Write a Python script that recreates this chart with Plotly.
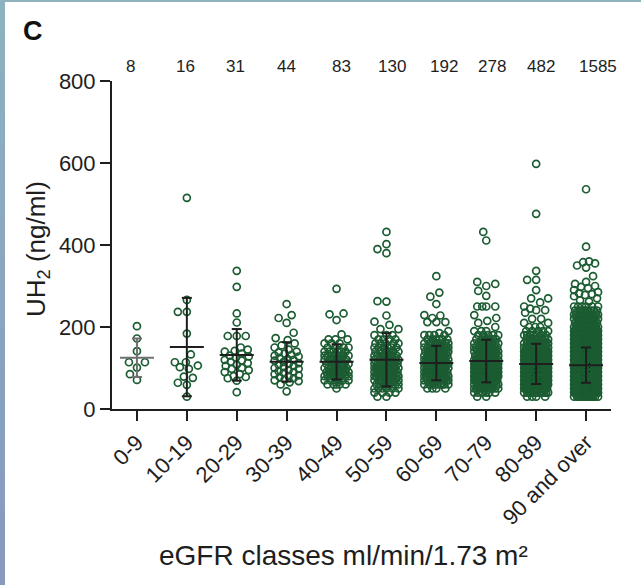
import numpy as np
import plotly.graph_objects as go

# ---------------------------------------------------------------- data
categories = ["0-9", "10-19", "20-29", "30-39", "40-49",
              "50-59", "60-69", "70-79", "80-89", "90 and over"]

# Small classes: individual UH2 values (ng/ml)
uh2_0_9 = [202, 172, 141, 114, 114, 101, 85, 71]
uh2_10_19 = [515, 266, 237, 237, 184, 133, 114, 114, 106, 102, 98, 79, 76, 64, 59, 30]
uh2_20_29 = [337, 298, 233, 211, 178, 178, 178, 150, 145, 142, 140, 135, 130, 128,
             125, 120, 118, 115, 112, 108, 105, 100, 98, 95, 90, 85, 80, 78, 75, 69, 41]
uh2_30_39 = [256, 229, 222, 210, 186, 173, 168, 160, 155, 150, 145, 140, 138, 135,
             132, 130, 128, 125, 122, 120, 118, 115, 112, 110, 108, 105, 102, 100,
             98, 95, 92, 90, 88, 85, 82, 80, 78, 75, 72, 70, 68, 65, 60, 43]

# Larger classes: number of subjects per 10 ng/ml level, plus the isolated high values
levels = [30, 40, 50, 60, 70, 80, 90, 100, 110, 120, 130, 140,
          150, 160, 170, 180, 190, 200, 210, 220, 230, 240, 250]
counts_40_49 = [0, 0, 1, 5, 6, 8, 9, 9, 9, 8, 7, 6, 4, 3, 3, 0, 0, 0, 0, 0, 0, 0, 0]
high_40_49 = [293, 233, 231, 217, 182]
counts_50_59 = [2, 4, 6, 8, 10, 12, 12, 12, 11, 9, 8, 7, 6, 5, 4, 3, 0, 0, 0, 0, 0, 0, 0]
high_50_59 = [432, 402, 390, 380, 263, 262, 228, 213, 205, 195, 195]
counts_60_69 = [0, 0, 4, 9, 14, 18, 20, 20, 19, 18, 16, 13, 11, 8, 6, 3, 0, 0, 0, 0, 0, 0, 0]
high_60_69 = [324, 284, 274, 256, 229, 228, 222, 212, 212, 212, 190, 185, 180]
counts_70_79 = [2, 6, 12, 18, 24, 27, 28, 27, 25, 22, 19, 16, 12, 9, 7, 5, 3, 1, 0, 0, 0, 0, 0]
high_70_79 = [432, 411, 310, 305, 300, 288, 276, 250, 250, 250, 250, 229, 222, 215, 210]
counts_80_89 = [4, 12, 24, 36, 45, 50, 50, 47, 43, 37, 31, 25, 20, 15, 10, 7, 5, 3, 2, 2, 0, 0, 0]
high_80_89 = [598, 476, 337, 315, 315, 290, 270, 270, 260, 250, 245, 241, 241, 235]
counts_90_up = [20, 45, 75, 105, 133, 145, 151, 142, 128, 116, 100, 87,
                68, 56, 46, 37, 29, 23, 18, 14, 11, 8, 6]
high_90_up = [536, 396, 360, 358, 355, 350, 345, 324, 310, 305, 300, 298,
              295, 290, 285, 282, 280, 278, 275, 270, 265, 262]

# Mean and standard deviation per class (ng/ml)
mean_uh2 = [125, 151, 132, 115, 115, 120, 112, 117, 110, 107]
sd_uh2 = [47, 120, 63, 48, 43, 65, 42, 52, 49, 43]


def expand(counts, high):
    return list(np.repeat(levels, counts)) + list(high)


groups = [
    uh2_0_9, uh2_10_19, uh2_20_29, uh2_30_39,
    expand(counts_40_49, high_40_49),
    expand(counts_50_59, high_50_59),
    expand(counts_60_69, high_60_69),
    expand(counts_70_79, high_70_79),
    expand(counts_80_89, high_80_89),
    expand(counts_90_up, high_90_up),
]
n_per_class = [len(g) for g in groups]

# ---------------------------------------------------------------- geometry
W, H = 641, 585
ML, MR, MT, MB = 112, 30, 81, 176
PLOT_W, PLOT_H = W - ML - MR, H - MT - MB
X_RANGE = [-0.5, 9.5]
Y_RANGE = [0, 800]
PX_PER_X = PLOT_W / (X_RANGE[1] - X_RANGE[0])
PX_PER_Y = PLOT_H / (Y_RANGE[1] - Y_RANGE[0])

GREEN = "#1c5c32"
INK = "#1e1e1e"
FONT = "Liberation Sans, Arial, sans-serif"


def swarm_offsets(vals, diam=9.0, half_width=12.0):
    """Horizontal pixel offsets for a column scatter (beeswarm, clamped width)."""
    vals = np.asarray(vals, float)
    order = np.argsort(vals, kind="stable")
    ypx = vals * PX_PER_Y
    cand = np.arange(-half_width, half_width + 0.01, 1.0)
    cand = cand[np.argsort(np.abs(cand), kind="stable")]
    placed_y = np.zeros(len(vals))
    placed_x = np.zeros(len(vals))
    out = np.zeros(len(vals))
    for k, i in enumerate(order):
        y = ypx[i]
        lo = np.searchsorted(placed_y[:k], y - diam)
        nx, ny = placed_x[lo:k], placed_y[lo:k]
        if len(nx) == 0:
            x = 0.0
        else:
            d = np.sqrt((cand[:, None] - nx[None, :]) ** 2 + (y - ny)[None, :] ** 2).min(axis=1)
            ok = np.nonzero(d >= diam)[0]
            x = cand[ok[0]] if len(ok) else cand[np.argmax(d)]
        placed_y[k], placed_x[k] = y, x
        out[i] = x
    return out


fig = go.Figure()

# scatter of individual values
for i, vals in enumerate(groups):
    off = swarm_offsets(vals)
    fig.add_trace(go.Scatter(
        x=i + off / PX_PER_X, y=vals, mode="markers",
        marker=dict(symbol="circle-open", size=7, color=GREEN,
                    line=dict(width=1.7, color=GREEN)),
        showlegend=False, hoverinfo="y",
    ))

# mean and SD bars
MEAN_HALF = 17 / PX_PER_X
CAP_HALF = 5 / PX_PER_X


def bar_path(idx):
    xs, ys = [], []
    for i in idx:
        m, s = mean_uh2[i], sd_uh2[i]
        xs += [i - MEAN_HALF, i + MEAN_HALF, None, i, i, None,
               i - CAP_HALF, i + CAP_HALF, None, i - CAP_HALF, i + CAP_HALF, None]
        ys += [m, m, None, m - s, m + s, None, m + s, m + s, None, m - s, m - s, None]
    return xs, ys


for idx, col in (([0], "#707070"), (list(range(1, 10)), INK)):
    bx, by = bar_path(idx)
    fig.add_trace(go.Scatter(x=bx, y=by, mode="lines",
                             line=dict(color=col, width=2),
                             showlegend=False, hoverinfo="skip"))

# class sizes above the plot
count_shift_px = [-6, -1, -1, 0, 5, 6, 8, 6, 5, 12]
annotations = []
for i, n in enumerate(n_per_class):
    annotations.append(dict(
        x=i, xref="x", y=(409 - 67) / PLOT_H, yref="paper",
        xshift=count_shift_px[i], text=str(n), showarrow=False,
        font=dict(family=FONT, size=17, color=INK),
        xanchor="center", yanchor="middle"))

# panel letter and axis titles
annotations += [
    dict(x=(33 - ML) / PLOT_W, y=(409 - 31) / PLOT_H, xref="paper", yref="paper",
         text="<b>C</b>", showarrow=False, font=dict(family=FONT, size=27, color="#111"),
         xanchor="center", yanchor="middle"),
    dict(x=(37 - ML) / PLOT_W, y=(409 - 249) / PLOT_H, xref="paper", yref="paper",
         text="UH<sub>2</sub> (ng/ml)", textangle=-90, showarrow=False,
         font=dict(family=FONT, size=26, color=INK), xanchor="center", yanchor="middle"),
    dict(x=(343 - ML) / PLOT_W, y=(409 - 555) / PLOT_H, xref="paper", yref="paper",
         text="eGFR classes ml/min/1.73 m²", showarrow=False,
         font=dict(family=FONT, size=28, color=INK), xanchor="center", yanchor="middle"),
]

# thin tinted frame on the left and top edges
shapes = []
top_rgb = np.array([0x8e, 0xb3, 0xbf])
bot_rgb = np.array([0x87, 0x99, 0xc0])
n_seg = 16
for s in range(n_seg):
    c = top_rgb + (bot_rgb - top_rgb) * (s + 0.5) / n_seg
    y_top = s * H / n_seg - 1
    y_bot = (s + 1) * H / n_seg + 1
    shapes.append(dict(type="rect", xref="paper", yref="paper",
                       x0=(0 - ML) / PLOT_W, x1=(5 - ML) / PLOT_W,
                       y0=(409 - y_bot) / PLOT_H, y1=(409 - y_top) / PLOT_H,
                       fillcolor="rgb(%d,%d,%d)" % tuple(c.astype(int)),
                       line=dict(width=0), layer="above"))
shapes.append(dict(type="rect", xref="paper", yref="paper",
                   x0=(0 - ML) / PLOT_W, x1=(W - ML) / PLOT_W,
                   y0=(409 - 2) / PLOT_H, y1=409 / PLOT_H,
                   fillcolor="rgb(142,179,191)", line=dict(width=0), layer="above"))

axis_common = dict(showline=True, linewidth=2, linecolor=INK, ticks="outside",
                   ticklen=10, tickwidth=2, tickcolor=INK, showgrid=False,
                   zeroline=False, tickfont=dict(family=FONT, size=22, color=INK))

fig.update_layout(
    width=W, height=H,
    margin=dict(l=ML, r=MR, t=MT, b=MB, pad=0),
    paper_bgcolor="white", plot_bgcolor="white",
    xaxis=dict(range=X_RANGE, tickvals=list(range(len(categories))),
               ticktext=categories, tickangle=-45, **axis_common),
    yaxis=dict(range=Y_RANGE, tickvals=[0, 200, 400, 600, 800], **axis_common),
    annotations=annotations, shapes=shapes,
)

fig.write_html("out.html")
